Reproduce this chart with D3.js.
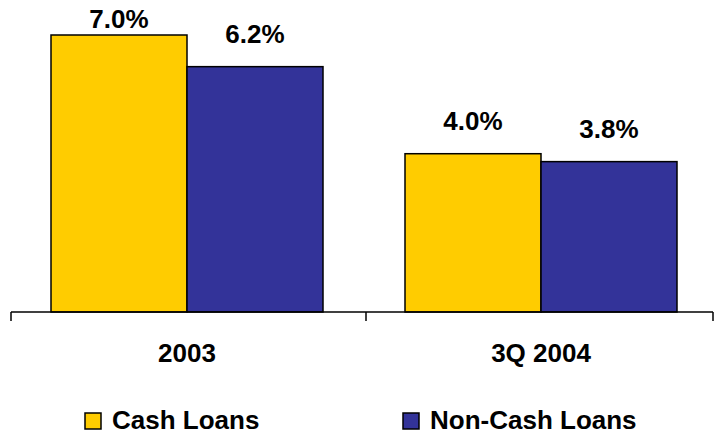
<!DOCTYPE html>
<html><head><meta charset="utf-8">
<script src="https://cdn.jsdelivr.net/npm/d3@7"></script>
<style>body{margin:0;background:#fff}svg{display:block}text{font-family:"Liberation Sans",Arial,sans-serif;font-weight:bold;fill:#000}</style>
</head><body>
<script>
const categories = ["2003", "3Q 2004"];
const seriesNames = ["Cash Loans", "Non-Cash Loans"];
const cashLoans = [7.0, 4.0];
const nonCashLoans = [6.2, 3.8];
const colors = ["#FFCC00", "#333399"];

const W = 717, H = 435;
const svg = d3.select("body").append("svg").attr("width", W).attr("height", H);
const baseY = 312;
const x = d3.scaleBand().domain(categories).range([11, 719]).paddingInner(0).paddingOuter(0);
const inner = d3.scaleBand().domain(seriesNames).range([0, 272]);
const y = d3.scaleLinear().domain([0, 7]).range([baseY, 35]);
const series = [cashLoans, nonCashLoans];

categories.forEach((c, i) => {
  const cx = x(c) + x.bandwidth() / 2 - 1;
  const g = svg.append("g").attr("transform", `translate(${cx - 136},0)`);
  seriesNames.forEach((s, j) => {
    const v = series[j][i];
    g.append("rect").attr("x", inner(s)).attr("y", y(v))
      .attr("width", inner.bandwidth()).attr("height", baseY - y(v))
      .attr("fill", colors[j]).attr("stroke", "#000").attr("stroke-width", 1.5);
    g.append("text").attr("x", inner(s) + inner.bandwidth() / 2)
      .attr("y", Math.max(28, y(v) - 24)).attr("text-anchor", "middle")
      .attr("font-size", 26).text(v.toFixed(1) + "%");
  });
  svg.append("text").attr("x", cx).attr("y", 362).attr("text-anchor", "middle")
    .attr("font-size", 26).text(c);
});

// axis
svg.append("line").attr("x1", 11).attr("x2", 713).attr("y1", baseY).attr("y2", baseY)
  .attr("stroke", "#000").attr("stroke-width", 1.5);
const tickXs = [x(categories[0]), x(categories[1]) + 1, 713];
tickXs.forEach(t => svg.append("line").attr("x1", t).attr("x2", t)
  .attr("y1", baseY).attr("y2", baseY + 9).attr("stroke", "#000").attr("stroke-width", 1.5));

// legend
const legX = [85, 403];
seriesNames.forEach((s, j) => {
  svg.append("rect").attr("x", legX[j]).attr("y", 413).attr("width", 16).attr("height", 16)
    .attr("fill", colors[j]).attr("stroke", "#000").attr("stroke-width", 1.5);
  svg.append("text").attr("x", legX[j] + 27).attr("y", 429).attr("font-size", 26).text(s);
});
</script>
</body></html>
